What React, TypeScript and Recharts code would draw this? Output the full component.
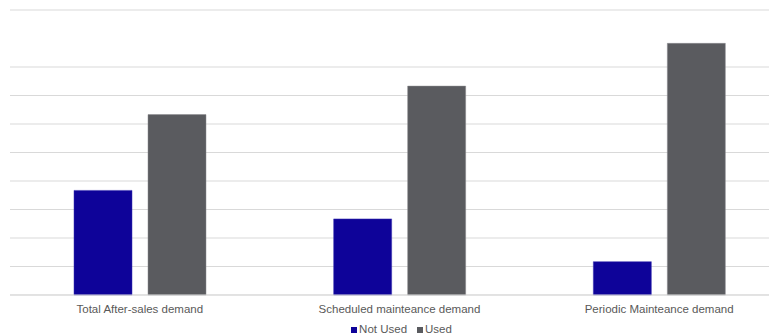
import React from "react";
import { BarChart, Bar, XAxis, YAxis, CartesianGrid, Legend } from "recharts";

// Share of demand (%) by usage
const categories = [
  "Total After-sales demand",
  "Scheduled mainteance demand",
  "Periodic Mainteance demand",
];
const notUsed = [36.7, 26.7, 11.7];
const used = [63.3, 73.3, 88.3];
const yTicks = [0, 10, 20, 30, 40, 50, 60, 70, 80, 90, 100];

const data = categories.map((name, i) => ({
  name,
  notUsed: notUsed[i],
  used: used[i],
}));

const FONT = "'Liberation Sans', Arial, sans-serif";
const TEXT = "#595959";

export default function App() {
  return (
    <div style={{ width: 769, overflow: "hidden" }}>
      <BarChart
        width={790}
        height={327}
        data={data}
        margin={{ top: 2, right: 9, left: 2, bottom: 0 }}
        barGap={16}
        barSize={58}
        style={{ fontFamily: FONT }}
      >
        <CartesianGrid vertical={false} stroke="#D9D9D9" strokeWidth={1} />
        <YAxis hide domain={[0, 100]} ticks={yTicks} />
        <XAxis
          dataKey="name"
          axisLine={{ stroke: "#D9D9D9" }}
          tickLine={false}
          tickMargin={4}
          height={22}
          tick={{ fill: TEXT, fontSize: 11.5, fontFamily: FONT }}
          interval={0}
        />
        <Legend
          verticalAlign="bottom"
          iconType="square"
          iconSize={6}
          height={18}
          wrapperStyle={{ top: 315, left: 9, fontSize: 11.5, fontFamily: FONT, color: TEXT }}
          formatter={(v) => <span style={{ color: TEXT, marginLeft: -2 }}>{v}</span>}
        />
        <Bar
          dataKey="notUsed"
          name="Not Used"
          fill="#0E0399"
          stroke="#3A33B0"
          strokeWidth={0.5}
          isAnimationActive={false}
        />
        <Bar
          dataKey="used"
          name="Used"
          fill="#5A5B5F"
          stroke="#8A8B8E"
          strokeWidth={0.5}
          isAnimationActive={false}
        />
      </BarChart>
    </div>
  );
}
